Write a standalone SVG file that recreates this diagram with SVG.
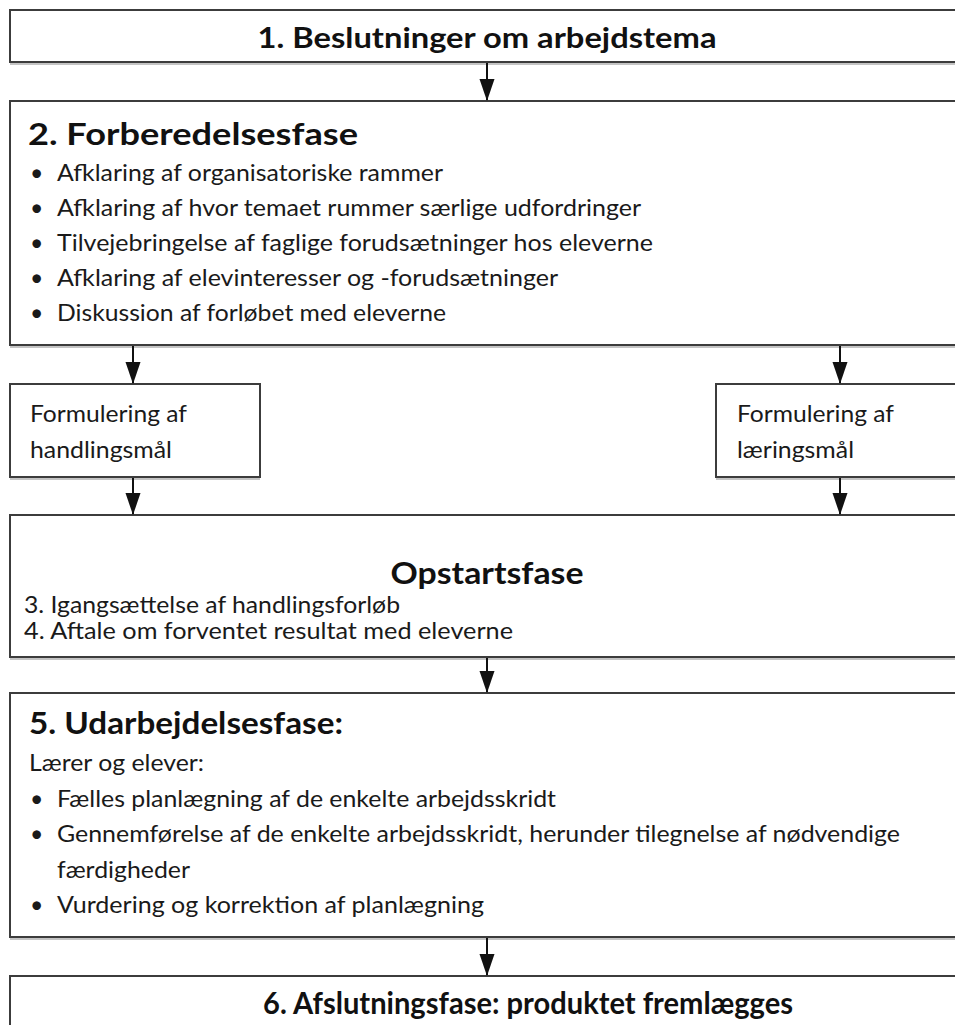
<svg xmlns="http://www.w3.org/2000/svg" width="955" height="1025" viewBox="0 0 955 1025">
<style>
.box{fill:#fff;stroke:#3c3c3c;stroke-width:2}
.sh{fill:none;stroke:#b0b0b0;stroke-width:1.5}
.t{font-family:Lato,"Open Sans",sans-serif;font-size:23px;fill:#1a1a1a}
.h{font-family:Lato,"Open Sans",sans-serif;font-weight:bold;fill:#111}
.con line{stroke:#111;stroke-width:2}
</style>
<defs>
<marker id="a" markerUnits="userSpaceOnUse" markerWidth="22" markerHeight="16" refX="21" refY="7.5" orient="auto" viewBox="0 0 22 15">
<path d="M0,0 L22,7.5 L0,15 Z" fill="#111"/>
</marker>
</defs>
<g id="n1">
<rect class="box" x="10" y="10" width="960" height="52"/>
<line class="sh" x1="10" y1="64" x2="955" y2="64"/>
<text class="h" x="487" y="48" font-size="28" text-anchor="middle" textLength="459" lengthAdjust="spacingAndGlyphs">1. Beslutninger om arbejdstema</text>
</g>
<g id="n2">
<rect class="box" x="10" y="101" width="960" height="244"/>
<line class="sh" x1="10" y1="347" x2="955" y2="347"/>
<text class="h" x="28" y="145" font-size="30" textLength="330" lengthAdjust="spacingAndGlyphs">2. Forberedelsesfase</text>
<g class="t">
<text x="30" y="181">•</text><text x="57" y="181" textLength="386" lengthAdjust="spacingAndGlyphs">Afklaring af organisatoriske rammer</text>
<text x="30" y="216">•</text><text x="57" y="216" textLength="584" lengthAdjust="spacingAndGlyphs">Afklaring af hvor temaet rummer særlige udfordringer</text>
<text x="30" y="251">•</text><text x="57" y="251" textLength="596" lengthAdjust="spacingAndGlyphs">Tilvejebringelse af faglige forudsætninger hos eleverne</text>
<text x="30" y="286">•</text><text x="57" y="286" textLength="501" lengthAdjust="spacingAndGlyphs">Afklaring af elevinteresser og -forudsætninger</text>
<text x="30" y="321">•</text><text x="57" y="321" textLength="389" lengthAdjust="spacingAndGlyphs">Diskussion af forløbet med eleverne</text>
</g>
</g>
<g id="n3">
<rect class="box" x="10" y="384" width="250" height="93"/>
<line class="sh" x1="10" y1="479" x2="260" y2="479"/>
<text class="t" x="30" y="422" textLength="157" lengthAdjust="spacingAndGlyphs">Formulering af</text>
<text class="t" x="30" y="458" textLength="142" lengthAdjust="spacingAndGlyphs">handlingsmål</text>
</g>
<g id="n4">
<rect class="box" x="716" y="384" width="260" height="93"/>
<line class="sh" x1="716" y1="479" x2="955" y2="479"/>
<text class="t" x="737" y="422" textLength="157" lengthAdjust="spacingAndGlyphs">Formulering af</text>
<text class="t" x="737" y="458" textLength="117" lengthAdjust="spacingAndGlyphs">læringsmål</text>
</g>
<g id="n5">
<rect class="box" x="10" y="515" width="960" height="142"/>
<line class="sh" x1="10" y1="659" x2="955" y2="659"/>
<text class="h" x="487" y="584" font-size="30" text-anchor="middle" textLength="193" lengthAdjust="spacingAndGlyphs">Opstartsfase</text>
<text class="t" x="24" y="613" textLength="376" lengthAdjust="spacingAndGlyphs">3. Igangsættelse af handlingsforløb</text>
<text class="t" x="24" y="639" textLength="489" lengthAdjust="spacingAndGlyphs">4. Aftale om forventet resultat med eleverne</text>
</g>
<g id="n6">
<rect class="box" x="10" y="693" width="960" height="244"/>
<line class="sh" x1="10" y1="939" x2="955" y2="939"/>
<text class="h" x="29" y="734" font-size="30" textLength="314" lengthAdjust="spacingAndGlyphs">5. Udarbejdelsesfase:</text>
<g class="t">
<text x="29" y="771" textLength="175" lengthAdjust="spacingAndGlyphs">Lærer og elever:</text>
<text x="30" y="807">•</text><text x="57" y="807" textLength="499" lengthAdjust="spacingAndGlyphs">Fælles planlægning af de enkelte arbejdsskridt</text>
<text x="30" y="842">•</text><text x="57" y="842" textLength="843" lengthAdjust="spacingAndGlyphs">Gennemførelse af de enkelte arbejdsskridt, herunder tilegnelse af nødvendige</text>
<text x="57" y="878" textLength="133" lengthAdjust="spacingAndGlyphs">færdigheder</text>
<text x="30" y="913">•</text><text x="57" y="913" textLength="427" lengthAdjust="spacingAndGlyphs">Vurdering og korrektion af planlægning</text>
</g>
</g>
<g id="n7">
<rect class="box" x="10" y="976" width="960" height="70"/>
<text class="h" x="528" y="1014" font-size="30" text-anchor="middle" textLength="530" lengthAdjust="spacingAndGlyphs">6. Afslutningsfase: produktet fremlægges</text>
</g>
<g id="connectors" class="con">
<line x1="487" y1="63" x2="487" y2="100" marker-end="url(#a)"/>
<line x1="133" y1="346" x2="133" y2="383" marker-end="url(#a)"/>
<line x1="840" y1="346" x2="840" y2="383" marker-end="url(#a)"/>
<line x1="133" y1="478" x2="133" y2="514" marker-end="url(#a)"/>
<line x1="840" y1="478" x2="840" y2="514" marker-end="url(#a)"/>
<line x1="487" y1="658" x2="487" y2="692" marker-end="url(#a)"/>
<line x1="487" y1="938" x2="487" y2="975" marker-end="url(#a)"/>
</g>
</svg>
